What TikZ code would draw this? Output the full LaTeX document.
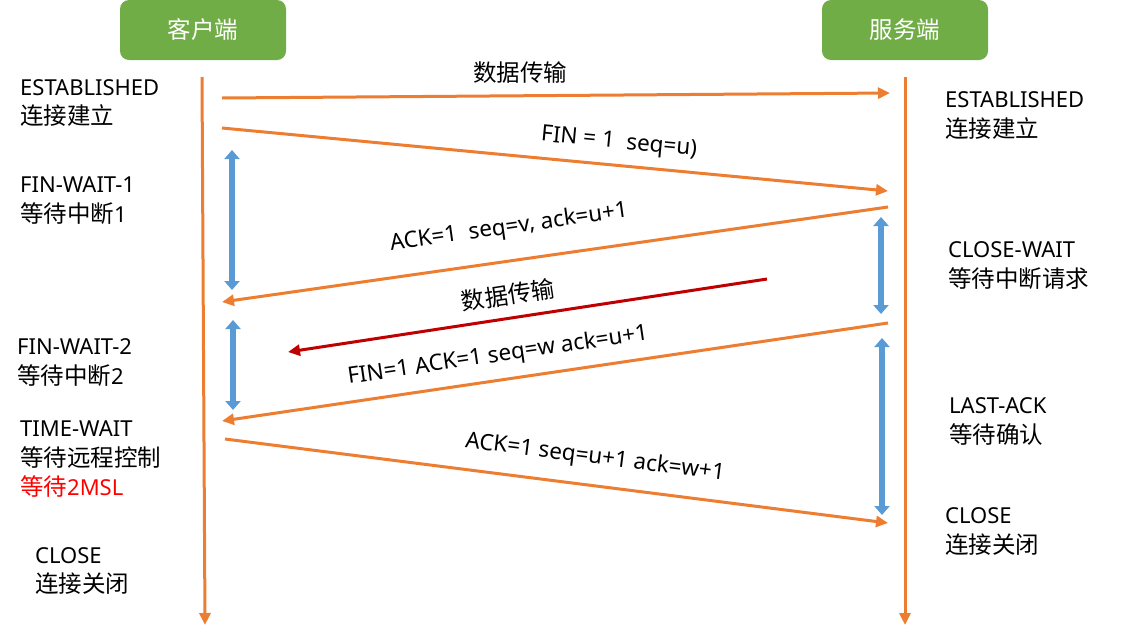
\documentclass[tikz,border=0pt]{standalone}
\usepackage{fontspec}
\setmainfont{Noto Sans}
\newfontfamily\cjk{Noto Sans CJK SC}
\newcommand{\zh}[1]{{\cjk\fontsize{23.5}{29.5}\selectfont #1}}
\usetikzlibrary{arrows.meta}
\definecolor{org}{HTML}{ED7D31}
\definecolor{grn}{HTML}{70AD47}
\definecolor{blu}{HTML}{5B9BD5}
\definecolor{drd}{HTML}{C00000}
\definecolor{txtred}{HTML}{FF0000}
\begin{document}
\begin{tikzpicture}[x=1pt,y=-1pt,
  msg/.style={draw=org,line width=3pt,-{Triangle[length=12pt,width=11pt]}},
  redmsg/.style={draw=drd,line width=3pt,-{Triangle[length=12pt,width=11pt]}},
  life/.style={draw=org,line width=3pt,-{Triangle[length=12pt,width=11pt]}},
  dur/.style={draw=blu,line width=6.5pt,{Triangle[length=9pt,width=15pt]}-{Triangle[length=9pt,width=15pt]}},
  hdr/.style={fill=grn,rounded corners=9pt,minimum width=166pt,minimum height=60pt,inner sep=0pt,text=white,font=\cjk\fontsize{23.5}{28}\selectfont},
  st/.style={anchor=west,align=left,inner sep=0pt,font=\fontsize{22}{29.5}\selectfont},
  lbl/.style={inner sep=0pt,font=\fontsize{22.5}{24}\selectfont}]
\useasboundingbox (0,0) rectangle (1129,638);

% headers
\node[hdr] (cli) at (203,30) {客户端};
\node[hdr] (srv) at (905,30) {服务端};

% lifelines
\coordinate (cT) at (202,77);
\coordinate (cB) at (205,625);
\coordinate (sT) at (905,77);
\coordinate (sB) at (905,625);
\draw[life] (cT) -- (cB);
\draw[life] (sT) -- (sB);

% message end points
\coordinate (m1s) at (222,98);  \coordinate (m1e) at (890,93);
\coordinate (m2s) at (222,128); \coordinate (m2e) at (888,191);
\coordinate (m3s) at (888,207); \coordinate (m3e) at (222,302);
\coordinate (m4s) at (767,279); \coordinate (m4e) at (288,352);
\coordinate (m5s) at (888,323); \coordinate (m5e) at (222,421);
\coordinate (m6s) at (225,439); \coordinate (m6e) at (888,523);

\draw[msg] (m1s) -- (m1e);
\draw[msg] (m2s) -- (m2e);
\draw[msg] (m3s) -- (m3e);
\draw[redmsg] (m4s) -- (m4e);
\draw[msg] (m5s) -- (m5e);
\draw[msg] (m6s) -- (m6e);

% message labels
\node[lbl,font=\cjk\fontsize{23.5}{26}\selectfont] (l1) at (520,73) {数据传输};
\node[lbl,rotate=-5.4] (l2) at (619,143) {FIN = 1\ \ seq=u)};
\node[lbl,rotate=8.1] (l3) at (509,228) {ACK=1\ \ seq=v, ack=u+1};
\node[lbl,rotate=8.7,font=\cjk\fontsize{23.5}{26}\selectfont] (l4) at (508,295) {数据传输};
\node[lbl,rotate=8.4] (l5) at (498,356) {FIN=1 ACK=1 seq=w ack=u+1};
\node[lbl,rotate=-7.2] (l6) at (595,458) {ACK=1 seq=u+1 ack=w+1};

% blue duration arrows
\coordinate (b1s) at (232,150); \coordinate (b1e) at (232,290);
\coordinate (b2s) at (233,320); \coordinate (b2e) at (233,410);
\coordinate (b3s) at (881,217); \coordinate (b3e) at (881,314);
\coordinate (b4s) at (882,338); \coordinate (b4e) at (882,515);
\draw[dur] (b1s) -- (b1e);
\draw[dur] (b2s) -- (b2e);
\draw[dur] (b3s) -- (b3e);
\draw[dur] (b4s) -- (b4e);

% client states
\node[st] (c1) at (20,103) {ESTABLISHED\\\zh{连接建立}};
\node[st] (c2) at (20,200.5) {FIN-WAIT-1\\\zh{等待中断}1};
\node[st] (c3) at (17,362.5) {FIN-WAIT-2\\\zh{等待中断}2};
\node[st] (c4) at (20,459.5) {TIME-WAIT\\\zh{等待远程控制}\\\textcolor{txtred}{\zh{等待}2MSL}};
\node[st] (c5) at (35,571) {CLOSE\\\zh{连接关闭}};

% server states
\node[st] (s1) at (945,115.5) {ESTABLISHED\\\zh{连接建立}};
\node[st] (s2) at (948,265.5) {CLOSE-WAIT\\\zh{等待中断请求}};
\node[st] (s3) at (949,421.5) {LAST-ACK\\\zh{等待确认}};
\node[st] (s4) at (945,531.5) {CLOSE\\\zh{连接关闭}};
\end{tikzpicture}
\end{document}
